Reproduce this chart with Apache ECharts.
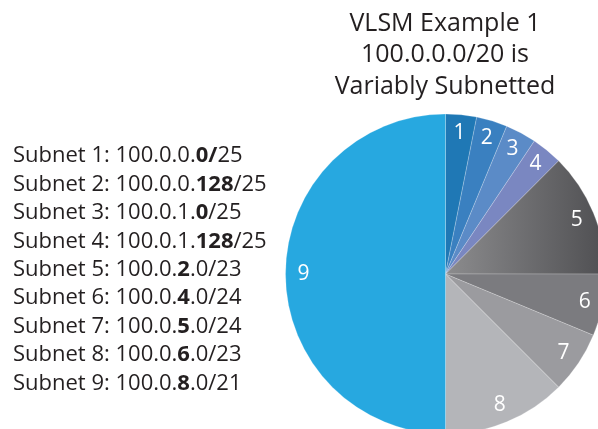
<!DOCTYPE html>
<html><head><meta charset="utf-8">
<script src="https://cdn.jsdelivr.net/npm/echarts@6/dist/echarts.min.js"></script>
<style>html,body{margin:0;padding:0;background:#fff}#c{width:598px;height:429px}</style>
</head><body><div id="c"></div>
<script>
var sliceNames = ['1','2','3','4','5','6','7','8','9'];
var sliceValues = [128,128,128,128,512,256,256,512,2048];
var titleLines = ['VLSM Example 1','100.0.0.0/20 is','Variably Subnetted'];
var subnetPrefix = ['100.0.0.','100.0.0.','100.0.1.','100.0.1.','100.0.','100.0.','100.0.','100.0.','100.0.'];
var subnetBold = ['0/','128','0','128','2','4','5','6','8'];
var subnetSuffix = ['25','/25','/25','/25','.0/23','.0/24','.0/24','.0/23','.0/21'];

var colors = ['#1f78b5','#3a80c0','#5b8bc7','#7a87c1',
  {type:'linear',x:0,y:0,x2:1,y2:0,colorStops:[{offset:0,color:'#8c8c8e'},{offset:1,color:'#4f4f52'}]},
  '#7b7b7f','#9b9b9f','#b4b5b9','#27a8e0'];

var fontFam = '"Open Sans", sans-serif';
var legendText = sliceNames.map(function(n,i){
  return 'Subnet ' + n + ': ' + subnetPrefix[i] + '{b|' + subnetBold[i] + '}' + subnetSuffix[i];
}).join('\n');

var data = sliceNames.map(function(n,i){
  return {name:n, value:sliceValues[i], itemStyle:{color:colors[i]}};
});
var labelData = sliceNames.map(function(n,i){ return {name:n, value:sliceValues[i]}; });

var chart = echarts.init(document.getElementById('c'));
chart.setOption({
  animation:false,
  title:[{
    text: titleLines.join('\n'),
    left: 440, top: 3, textAlign:'center',
    textStyle:{fontFamily:fontFam, fontSize:25, fontWeight:'normal', color:'#231f20', lineHeight:31.5}
  },{
    text: legendText,
    left: 8, top: 137,
    textStyle:{fontFamily:fontFam, fontSize:22, fontWeight:'normal', color:'#231f20', lineHeight:28.4,
      rich:{b:{fontFamily:fontFam, fontSize:22, fontWeight:'bold', color:'#231f20', lineHeight:28.4}}}
  }],
  series:[{
    type:'pie', center:[445.5,274], radius:[0,160], startAngle:90, clockwise:true,
    data:data, label:{show:false}, labelLine:{show:false}, silent:true,
    itemStyle:{borderColor:'rgba(255,255,255,0.35)', borderWidth:0.6}
  },{
    type:'pie', center:[445.5,274], radius:[118,160], startAngle:90, clockwise:true,
    data:labelData, silent:true,
    itemStyle:{color:'rgba(0,0,0,0)'},
    label:{show:true, position:'inside', color:'#fff', fontFamily:fontFam, fontSize:21, fontWeight:'normal'},
    labelLine:{show:false}
  }]
});
</script></body></html>
